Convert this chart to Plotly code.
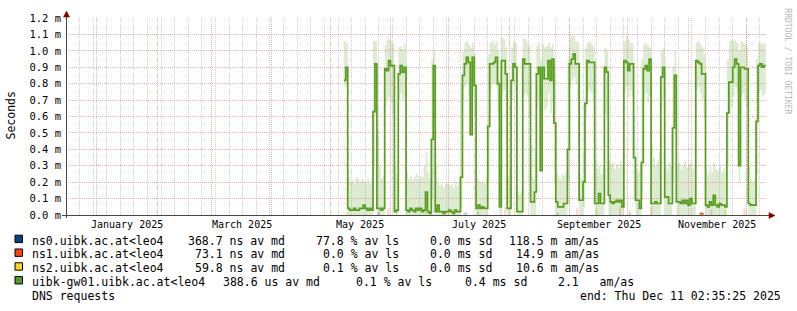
import plotly.graph_objects as go
import pandas as pd

# ---------------- data ----------------
# daily samples of uibk-gw01 (values in ms, axis shows "m" = milliseconds)
day_start = "2025-05-08"
gw01_median = [
    0.82, 0.90, 0.04, 0.03, 0.03, 0.04, 0.03, 0.03, 0.04, 0.04,
    0.06, 0.04, 0.03, 0.04, 0.03, 0.63, 0.92, 0.04, 0.04, 0.03,
    0.04, 0.89, 0.88, 0.94, 0.91, 0.91, 0.02, 0.03, 0.86, 0.91,
    0.87, 0.90, 0.03, 0.02, 0.04, 0.03, 0.02, 0.04, 0.03, 0.04,
    0.02, 0.03, 0.14, 0.02, 0.01, 0.46, 0.91, 0.02, 0.06, 0.02,
    0.02, 0.01, 0.02, 0.02, 0.03, 0.02, 0.01, 0.03, 0.02, 0.02,
    0.23, 0.85, 0.92, 0.96, 0.93, 0.49, 0.96, 0.79, 0.04, 0.06,
    0.04, 0.05, 0.04, 0.04, 0.54, 0.92, 0.92, 0.93, 0.96, 0.80,
    0.05, 0.94, 0.94, 0.86, 0.04, 0.04, 0.82, 0.92, 0.90, 0.02,
    0.02, 0.02, 0.95, 0.92, 0.92, 0.92, 0.08, 0.08, 0.14, 0.86,
    0.90, 0.27, 0.90, 0.83, 0.83, 0.94, 0.82, 0.95, 0.56, 0.08,
    0.05, 0.05, 0.05, 0.07, 0.07, 0.40, 0.92, 0.95, 0.98, 0.92,
    0.92, 0.09, 0.09, 0.20, 0.68, 0.94, 0.93, 0.93, 0.93, 0.07,
    0.07, 0.13, 0.07, 0.07, 0.90, 0.87, 0.12, 0.08, 0.07, 0.08,
    0.09, 0.08, 0.09, 0.05, 0.94, 0.93, 0.88, 0.92, 0.92, 0.35,
    0.09, 0.09, 0.04, 0.32, 0.89, 0.91, 0.88, 0.95, 0.07, 0.07,
    0.08, 0.07, 0.07, 0.84, 0.90, 0.11, 0.11, 0.07, 0.07, 0.53,
    0.85, 0.08, 0.08, 0.07, 0.09, 0.07, 0.09, 0.06, 0.10, 0.07,
    0.07, 0.94, 0.93, 0.92, 0.86, 0.86, 0.06, 0.05, 0.08, 0.06,
    0.12, 0.06, 0.05, 0.07, 0.06, 0.06, 0.05, 0.62, 0.81, 0.81,
    0.90, 0.95, 0.92, 0.30, 0.90, 0.90, 0.89, 0.89, 0.07, 0.06,
    0.06, 0.06, 0.57, 0.91, 0.92, 0.90, 0.91, 0.91,
]
gw01_smoke_top = [
    1.06, 1.05, 0.23, 0.20, 0.21, 0.19, 0.23, 0.22, 0.20, 0.22,
    0.21, 0.20, 0.22, 0.19, 0.21, 1.06, 1.06, 0.52, 0.30, 0.22,
    0.24, 1.04, 1.07, 1.08, 1.06, 1.04, 0.30, 0.25, 1.02, 1.03,
    1.01, 1.04, 0.26, 0.22, 0.24, 0.21, 0.23, 0.25, 0.22, 0.24,
    0.23, 0.30, 0.38, 0.26, 0.22, 0.95, 1.00, 0.30, 0.20, 0.18,
    0.19, 0.17, 0.19, 0.20, 0.18, 0.19, 0.17, 0.20, 0.18, 0.22,
    0.80, 1.00, 1.05, 1.06, 1.04, 1.02, 1.05, 0.98, 0.22, 0.21,
    0.20, 0.21, 0.19, 0.22, 0.98, 1.05, 1.06, 1.04, 1.06, 1.00,
    0.30, 1.08, 1.07, 1.02, 0.24, 0.30, 1.02, 1.06, 1.05, 0.14,
    0.13, 0.15, 1.08, 1.07, 1.05, 1.03, 0.42, 0.22, 0.40, 1.03,
    1.05, 0.95, 1.04, 1.02, 1.03, 1.05, 1.02, 1.04, 0.90, 0.26,
    0.24, 0.22, 0.25, 0.24, 0.26, 0.95, 1.08, 1.10, 1.09, 1.06,
    1.05, 0.25, 0.22, 0.40, 1.02, 1.05, 1.06, 1.04, 1.03, 0.33,
    0.28, 0.30, 0.25, 0.30, 1.02, 1.00, 0.33, 0.30, 0.32, 0.28,
    0.31, 0.29, 0.33, 0.30, 1.06, 1.09, 1.07, 1.05, 1.04, 0.60,
    0.28, 0.26, 0.30, 0.95, 1.04, 1.05, 1.03, 1.02, 0.42, 0.35,
    0.30, 0.33, 0.38, 1.00, 1.02, 0.30, 0.28, 0.32, 0.30, 0.90,
    1.00, 0.30, 0.32, 0.28, 0.30, 0.33, 0.29, 0.31, 0.32, 0.28,
    0.30, 1.05, 1.06, 1.04, 1.02, 0.98, 0.28, 0.25, 0.30, 0.26,
    0.32, 0.28, 0.27, 0.30, 0.26, 0.28, 0.25, 0.95, 1.06, 1.07,
    1.06, 1.07, 1.05, 1.00, 1.06, 1.05, 1.04, 1.03, 0.30, 0.22,
    0.20, 0.22, 0.95, 1.05, 1.05, 1.04, 1.05, 1.05,
]
gw01_smoke_bottom = [
    0.80, 0.78, 0.00, 0.00, 0.00, 0.00, 0.00, 0.00, 0.00, 0.00,
    0.00, 0.00, 0.00, 0.00, 0.00, 0.30, 0.60, 0.00, 0.00, 0.00,
    0.00, 0.66, 0.70, 0.72, 0.68, 0.62, 0.00, 0.00, 0.70, 0.74,
    0.70, 0.72, 0.00, 0.00, 0.00, 0.00, 0.00, 0.00, 0.00, 0.00,
    0.00, 0.00, 0.00, 0.00, 0.00, 0.10, 0.60, 0.00, 0.00, 0.00,
    0.00, 0.00, 0.00, 0.00, 0.00, 0.00, 0.00, 0.00, 0.00, 0.00,
    0.05, 0.70, 0.78, 0.80, 0.72, 0.56, 0.72, 0.60, 0.00, 0.00,
    0.00, 0.00, 0.00, 0.00, 0.20, 0.76, 0.80, 0.80, 0.78, 0.62,
    0.00, 0.74, 0.76, 0.70, 0.00, 0.00, 0.70, 0.80, 0.76, 0.00,
    0.00, 0.00, 0.72, 0.74, 0.72, 0.60, 0.00, 0.00, 0.00, 0.66,
    0.70, 0.30, 0.70, 0.64, 0.66, 0.74, 0.62, 0.70, 0.20, 0.00,
    0.00, 0.00, 0.00, 0.00, 0.00, 0.20, 0.78, 0.82, 0.84, 0.80,
    0.70, 0.00, 0.00, 0.05, 0.60, 0.74, 0.76, 0.74, 0.70, 0.00,
    0.00, 0.00, 0.00, 0.00, 0.62, 0.60, 0.00, 0.00, 0.00, 0.00,
    0.00, 0.00, 0.00, 0.00, 0.75, 0.78, 0.72, 0.76, 0.72, 0.10,
    0.00, 0.00, 0.00, 0.10, 0.70, 0.74, 0.68, 0.72, 0.00, 0.00,
    0.00, 0.00, 0.00, 0.65, 0.70, 0.00, 0.00, 0.00, 0.00, 0.20,
    0.60, 0.00, 0.00, 0.00, 0.00, 0.00, 0.00, 0.00, 0.00, 0.00,
    0.00, 0.76, 0.78, 0.74, 0.70, 0.60, 0.00, 0.00, 0.00, 0.00,
    0.00, 0.00, 0.00, 0.00, 0.00, 0.00, 0.00, 0.30, 0.62, 0.66,
    0.72, 0.78, 0.74, 0.20, 0.72, 0.74, 0.70, 0.66, 0.00, 0.00,
    0.00, 0.00, 0.25, 0.74, 0.76, 0.72, 0.74, 0.74,
]

# faint smoke of the three name servers near zero (ms)
ns0_smoke_dates = ["2025-05-26", "2025-07-09", "2025-07-10", "2025-07-16", "2025-08-26", "2025-10-02"]
ns0_smoke_vals = [0.02, 0.015, 0.02, 0.02, 0.015, 0.02]
ns1_smoke_dates = ["2025-05-31", "2025-07-30", "2025-09-05", "2025-09-27", "2025-10-13", "2025-11-13", "2025-11-30"]
ns1_smoke_vals = [0.04, 0.05, 0.04, 0.05, 0.05, 0.03, 0.04]
ns2_smoke_dates = ["2025-05-09", "2025-05-10", "2025-06-19", "2025-08-04", "2025-09-15", "2025-10-02", "2025-11-20"]
ns2_smoke_vals = [0.02, 0.02, 0.02, 0.03, 0.04, 0.03, 0.03]
ns1_median_dates = ["2025-11-07", "2025-11-09"]
ns1_median_vals = [0.008, 0.008]

y_ticks = [0.0, 0.1, 0.2, 0.3, 0.4, 0.5, 0.6, 0.7, 0.8, 0.9, 1.0, 1.1, 1.2]
y_ticktext = ["0.0 m", "0.1 m", "0.2 m", "0.3 m", "0.4 m", "0.5 m", "0.6 m",
              "0.7 m", "0.8 m", "0.9 m", "1.0 m", "1.1 m", "1.2 m"]
month_starts = ["2025-01-01", "2025-02-01", "2025-03-01", "2025-04-01", "2025-05-01",
                "2025-06-01", "2025-07-01", "2025-08-01", "2025-09-01", "2025-10-01",
                "2025-11-01", "2025-12-01"]
week_anchor = "2024-12-23"  # a Monday; minor grid every week
month_label_pos = ["2025-01-16 12:00", "2025-03-16 12:00", "2025-05-16 12:00",
                   "2025-07-16 12:00", "2025-09-16", "2025-11-16"]
month_labels = ["January 2025", "March 2025", "May 2025", "July 2025",
                "September 2025", "November 2025"]
x_start = "2024-12-16 02:35:25"
x_end = "2025-12-11 02:35:25"

legend_names = ["ns0.uibk.ac.at<leo4", "ns1.uibk.ac.at<leo4", "ns2.uibk.ac.at<leo4",
                "uibk-gw01.uibk.ac.at<leo4"]
legend_colors = ["#004586", "#ff420e", "#ffd320", "#579d1c"]
legend_median = ["368.7 ns av md", "73.1 ns av md", "59.8 ns av md", "388.6 us av md"]
legend_loss = ["77.8 % av ls", "0.0 % av ls", "0.1 % av ls", "0.1 % av ls"]
legend_sd = ["0.0 ms sd", "0.0 ms sd", "0.0 ms sd", "0.4 ms sd"]
legend_amas = ["118.5 m am/as", "14.9 m am/as", "10.6 m am/as", "2.1   am/as"]
title_text = "DNS requests"
end_text = "end: Thu Dec 11 02:35:25 2025"

# ---------------- figure ----------------
W, H = 797, 311
L, R, T, B = 66, 31, 15, 96
PW, PH = W - L - R, H - T - B


def px(x):
    return (x - L) / PW


def py(y):
    return (T + PH - y) / PH


dates = pd.date_range(day_start, periods=len(gw01_median), freq="D")
MONO = "DejaVu Sans Mono"

fig = go.Figure()

# invisible trace carrying the overlay x axis (monthly grid)
fig.add_trace(go.Scatter(x=[x_start, x_end], y=[0, 0], xaxis="x2", yaxis="y",
                         mode="lines", line=dict(width=0), showlegend=False,
                         hoverinfo="skip"))

for d, v, c in [(ns0_smoke_dates, ns0_smoke_vals, "rgba(0,69,134,0.22)"),
                (ns1_smoke_dates, ns1_smoke_vals, "rgba(255,66,14,0.25)"),
                (ns2_smoke_dates, ns2_smoke_vals, "rgba(255,211,32,0.35)")]:
    fig.add_trace(go.Bar(x=d, y=v, marker=dict(color=c, line=dict(width=0)),
                         width=86400000, showlegend=False, hoverinfo="skip"))

fig.add_trace(go.Scatter(x=dates, y=gw01_smoke_bottom, mode="lines",
                         line=dict(width=0, shape="hv"), showlegend=False,
                         hoverinfo="skip"))
fig.add_trace(go.Scatter(x=dates, y=gw01_smoke_top, mode="lines",
                         line=dict(width=0, shape="hv"), fill="tonexty",
                         fillcolor="rgba(87,157,28,0.2)", showlegend=False,
                         hoverinfo="skip"))
fig.add_trace(go.Scatter(x=dates, y=gw01_median, mode="lines",
                         line=dict(width=1.7, color="#579d1c", shape="hv"),
                         showlegend=False))
fig.add_trace(go.Scatter(x=ns1_median_dates, y=ns1_median_vals, mode="lines",
                         line=dict(width=2, color="#ff420e"), showlegend=False))

grid_red = "rgba(222,48,48,0.38)"
grid_grey = "rgba(140,140,140,0.38)"

fig.update_layout(
    width=W, height=H,
    margin=dict(l=L, r=R, t=T, b=B, pad=0),
    paper_bgcolor="white", plot_bgcolor="white",
    barmode="overlay",
    showlegend=False,
    xaxis=dict(
        type="date", range=[x_start, x_end],
        tickmode="linear", tick0=week_anchor, dtick=7 * 86400000,
        showticklabels=False, ticks="", showgrid=True, gridcolor=grid_grey,
        griddash="1px,1px", gridwidth=1, zeroline=False, showline=False,
    ),
    xaxis2=dict(
        type="date", range=[x_start, x_end], overlaying="x", anchor="y",
        tickmode="array", tickvals=month_starts, showticklabels=False,
        ticks="", showgrid=True, gridcolor=grid_red, griddash="1px,1px",
        gridwidth=1, zeroline=False, showline=False,
    ),
    yaxis=dict(
        range=[0, 1.2], tickmode="array", tickvals=y_ticks, ticktext=y_ticktext,
        showgrid=True, gridcolor=grid_red, griddash="1px,1px", gridwidth=1,
        zeroline=False, showline=False, ticks="", ticklabelstandoff=4,
        tickfont=dict(family=MONO, size=10.5, color="black"),
    ),
)

shapes = []
axis_col = "#4a4540"
arrow_col = "#7f0000"
# axes
shapes.append(dict(type="line", xref="paper", yref="paper", x0=px(66.5), x1=px(66.5),
                   y0=py(218), y1=py(12), line=dict(color=axis_col, width=1), layer="above"))
shapes.append(dict(type="line", xref="paper", yref="paper", x0=px(62), x1=px(770),
                   y0=py(215.5), y1=py(215.5), line=dict(color=axis_col, width=1), layer="above"))
# arrows
shapes.append(dict(type="path", xref="paper", yref="paper",
                   path=f"M {px(66.5)} {py(8)} L {px(63.5)} {py(14)} L {px(69.5)} {py(14)} Z",
                   fillcolor=arrow_col, line=dict(color=arrow_col, width=0.5), layer="above"))
shapes.append(dict(type="path", xref="paper", yref="paper",
                   path=f"M {px(775)} {py(215.5)} L {px(769)} {py(212.5)} L {px(769)} {py(218.5)} Z",
                   fillcolor=arrow_col, line=dict(color=arrow_col, width=0.5), layer="above"))

annotations = []
# x month labels
for pos, lab in zip(month_label_pos, month_labels):
    annotations.append(dict(x=pos, xref="x", y=py(224.5), yref="paper", text=lab,
                            showarrow=False, xanchor="center", yanchor="middle",
                            font=dict(family=MONO, size=10, color="black")))
# y title
annotations.append(dict(x=px(11), y=py(114), xref="paper", yref="paper", text="Seconds",
                        textangle=-90, showarrow=False, xanchor="center", yanchor="middle",
                        font=dict(family=MONO, size=11.5, color="black")))
# rrdtool watermark
annotations.append(dict(x=px(788), y=py(59), xref="paper", yref="paper",
                        text="RRDTOOL / TOBI OETIKER", textangle=90, showarrow=False,
                        xanchor="center", yanchor="middle",
                        font=dict(family=MONO, size=8, color="#b8b8b8")))

# legend
row_y = [241, 255, 269, 283]
box_top = [235.5, 249.5, 263.5, 277.5]
median_x = [186, 193, 193, 221]
loss_x = [314, 321, 321, 354]
sd_x = [428, 428, 428, 463]
amas_x = [507, 514, 514, 556]
lf = dict(family=MONO, size=11.5, color="black")
for k in range(4):
    shapes.append(dict(type="rect", xref="paper", yref="paper",
                       x0=px(15), x1=px(22.5), y0=py(box_top[k]), y1=py(box_top[k] + 7.5),
                       fillcolor=legend_colors[k], line=dict(color="black", width=1)))
    for xx, txt in [(30, legend_names[k]), (median_x[k], legend_median[k]),
                    (loss_x[k], legend_loss[k]), (sd_x[k], legend_sd[k]),
                    (amas_x[k], legend_amas[k])]:
        annotations.append(dict(x=px(xx), y=py(row_y[k]), xref="paper", yref="paper",
                                text=txt.replace(" ", "&nbsp;"), showarrow=False,
                                xanchor="left", yanchor="middle", font=lf))
annotations.append(dict(x=px(30), y=py(297), xref="paper", yref="paper", text=title_text.replace(" ", "&nbsp;"),
                        showarrow=False, xanchor="left", yanchor="middle", font=lf))
annotations.append(dict(x=px(578), y=py(297), xref="paper", yref="paper", text=end_text.replace(" ", "&nbsp;"),
                        showarrow=False, xanchor="left", yanchor="middle", font=lf))

fig.update_layout(shapes=shapes, annotations=annotations)
fig.write_html("out.html", config={"displayModeBar": False})
